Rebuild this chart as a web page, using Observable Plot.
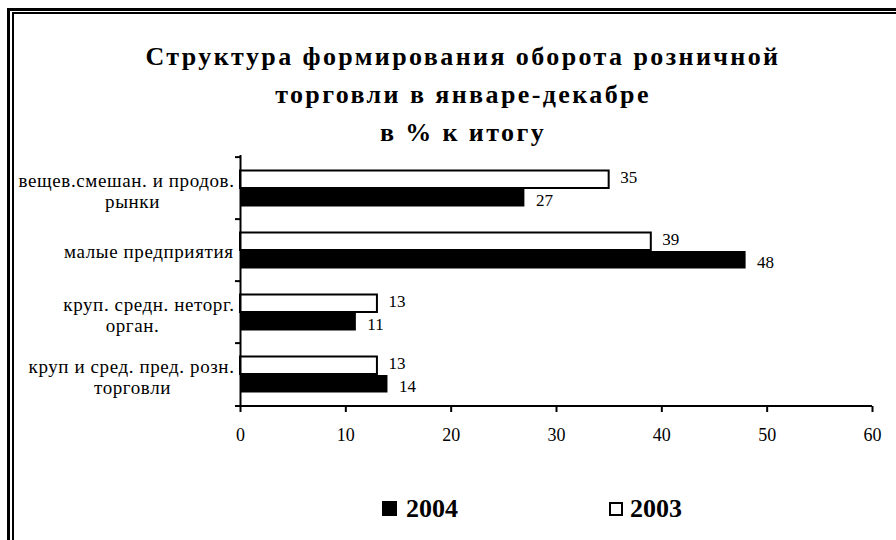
<!DOCTYPE html>
<html>
<head>
<meta charset="utf-8">
<script src="https://cdn.jsdelivr.net/npm/d3@7"></script>
<script src="https://cdn.jsdelivr.net/npm/@observablehq/plot@0.6"></script>
<style>
  body { margin: 0; background: #fff; }
  #wrap { position: relative; width: 896px; height: 540px; overflow: hidden; background: #fff;
          font-family: "Liberation Serif", "Times New Roman", serif; color: #000; }
  .b1 { position: absolute; left: 7px; top: 8px; right: -20px; bottom: -20px;
        border-left: 3px solid #000; border-top: 3px solid #000; }
  .b2 { position: absolute; left: 12px; top: 12px; right: -20px; bottom: -20px;
        border-left: 2px solid #000; border-top: 2px solid #000; }
  #chart { position: absolute; left: 0; top: 0; }
  #title { position: absolute; left: 0; top: 38px; width: 926px; text-align: center;
           font-weight: bold; font-size: 26px; letter-spacing: 2.4px; line-height: 38px; }
  .leg { position: absolute; top: 494px; font-weight: bold; font-size: 26px; line-height: 30px; }
  .sw { position: absolute; width: 15px; height: 15px; box-sizing: border-box; }
  .cat { letter-spacing: 0.6px; }
</style>
</head>
<body>
<div id="wrap">
  <div class="b1"></div>
  <div class="b2"></div>
  <div id="chart"></div>
  <div id="title"></div>
  <div class="sw" style="left:382px;top:501px;background:#000;"></div>
  <div class="leg" id="leg2004" style="left:406px;"></div>
  <div class="sw" style="left:609px;top:502px;background:#fff;border:2px solid #000;width:14px;height:14px;"></div>
  <div class="leg" id="leg2003" style="left:630px;"></div>
</div>
<script>
const titleLines = ["Структура формирования оборота розничной", "торговли в январе-декабре", "в % к итогу"];
const categories = [
  "вещев.смешан. и продов.\nрынки",
  "малые предприятия",
  "круп. средн. неторг.\nорган.",
  "круп и сред. пред. розн.\nторговли"
];
const values2003 = [35, 39, 13, 13];
const values2004 = [27, 48, 11, 14];
const xTicks = [0, 10, 20, 30, 40, 50, 60];
const seriesNames = ["2004", "2003"];

document.getElementById("title").innerHTML = titleLines.join("<br>");
document.getElementById("leg2004").textContent = seriesNames[0];
document.getElementById("leg2003").textContent = seriesNames[1];

const rows2003 = categories.map((c, i) => ({category: c, value: values2003[i]}));
const rows2004 = categories.map((c, i) => ({category: c, value: values2004[i]}));
const twoLine = categories.filter(c => c.includes("\n"));
const oneLine = categories.filter(c => !c.includes("\n"));

const W = 896, H = 540, mt = 155, mb = 134;
const band = (H - mt - mb) / categories.length;

const plot = Plot.plot({
  width: W, height: H,
  marginLeft: 240, marginRight: 24, marginTop: mt, marginBottom: mb,
  style: {fontFamily: "'Liberation Serif', 'Times New Roman', serif", fontSize: "17px", color: "#000", background: "transparent"},
  x: {domain: [0, 60], axis: null},
  y: {domain: categories, padding: 0, axis: null},
  marks: [
    Plot.barX(rows2003, {x: "value", y: "category", fill: "white", stroke: "black", strokeWidth: 2, insetTop: 13.5, insetBottom: 31}),
    Plot.barX(rows2004, {x: "value", y: "category", fill: "black", insetTop: 32, insetBottom: 12.5}),
    Plot.text(rows2003, {x: "value", y: "category", text: "value", dx: 11, dy: -11, textAnchor: "start", fontSize: 17}),
    Plot.text(rows2004, {x: "value", y: "category", text: "value", dx: 11, dy: 12, textAnchor: "start", fontSize: 17}),
    Plot.text(twoLine, {y: d => d, text: d => d.split("\n")[0], frameAnchor: "left", dx: -6, dy: -8, textAnchor: "end", fontSize: 19, className: "cat"}),
    Plot.text(twoLine, {y: d => d, text: d => d.split("\n")[1], frameAnchor: "left", dx: -108, dy: 13, textAnchor: "middle", fontSize: 19, className: "cat"}),
    Plot.text(oneLine, {y: d => d, text: d => d, frameAnchor: "left", dx: -7, dy: 1, textAnchor: "end", fontSize: 19, className: "cat"}),
    Plot.ruleX([0], {stroke: "black", strokeWidth: 2}),
    Plot.ruleY(categories, {y: d => d, dy: -band / 2, x1: 0, x2: 0, insetLeft: -5, stroke: "black", strokeWidth: 2}),
    Plot.ruleY(categories.slice(-1), {y: d => d, dy: band / 2, insetLeft: -5, stroke: "black", strokeWidth: 2}),
    Plot.axisX({ticks: xTicks, tickSize: 6, strokeWidth: 2, tickPadding: 16, fontSize: 18, label: null, tickFormat: d => String(d)})
  ]
});
document.getElementById("chart").appendChild(plot);
</script>
</body>
</html>
